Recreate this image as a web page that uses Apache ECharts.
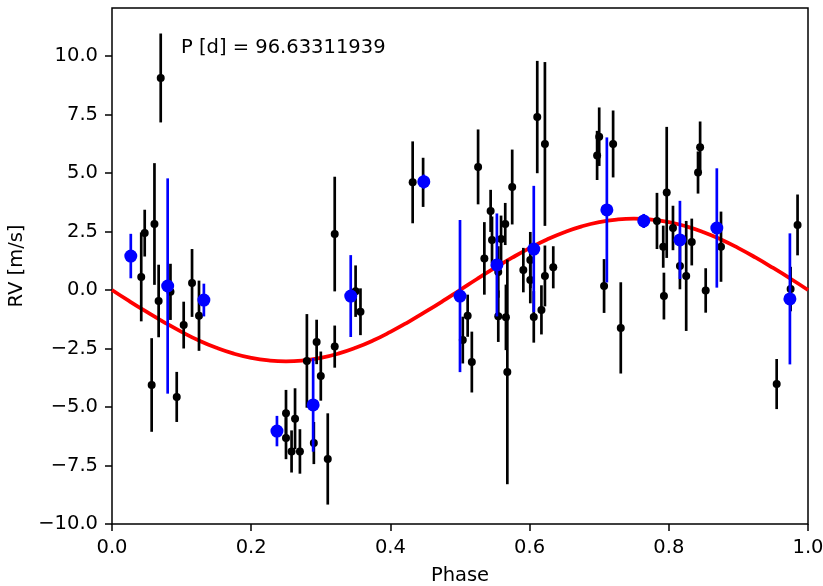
<!DOCTYPE html>
<html>
<head>
<meta charset="utf-8">
<script src="https://cdn.jsdelivr.net/npm/echarts@6/dist/echarts.min.js"></script>
<style>
html,body{margin:0;padding:0;background:#fff;}
#chart{width:823px;height:586px;}
</style>
</head>
<body>
<div id="chart"></div>
<script>
// Individual RV measurements (black)
const obsPhase = [0.042,0.047,0.057,0.061,0.067,0.070,0.084,0.093,0.103,0.115,0.125,
  0.250,0.250,0.263,0.258,0.270,0.290,0.280,0.294,0.300,0.310,0.320,0.320,0.350,0.357,
  0.432,0.447,0.504,0.511,0.517,0.526,0.535,0.544,0.546,0.555,0.559,0.565,0.555,0.566,0.568,
  0.575,0.591,0.601,0.601,0.606,0.611,0.617,0.622,0.622,0.634,
  0.697,0.700,0.707,0.720,0.731,0.783,0.792,0.793,0.797,0.806,0.816,0.825,0.833,0.842,0.845,
  0.853,0.875,0.955,0.975,0.985];
const obsRV = [0.56,2.43,-4.06,2.82,-0.47,9.06,-0.08,-4.57,-1.50,0.30,-1.10,
  -5.27,-6.33,-5.50,-6.90,-6.90,-6.54,-3.03,-2.22,-3.68,-7.22,-2.42,2.39,-0.05,-0.93,
  4.60,4.60,-2.14,-1.10,-3.08,5.26,1.35,3.38,2.14,0.77,2.18,2.82,-1.12,-1.17,-3.50,
  4.40,0.85,1.28,0.43,-1.15,7.39,-0.85,6.24,0.60,0.97,
  5.75,6.55,0.17,6.24,-1.62,2.95,1.85,-0.26,4.17,2.65,1.03,0.60,2.05,5.02,6.10,
  -0.02,1.85,-4.02,0.04,2.78];
const obsErr = [1.9,1.0,2.0,2.6,1.55,1.9,1.2,1.07,1.0,1.45,1.5,
  1.0,0.9,1.3,0.9,0.95,0.9,2.0,0.95,1.05,1.95,0.9,2.45,1.1,1.0,
  1.75,1.05,1.0,0.9,1.3,1.6,1.55,0.9,1.0,1.1,1.0,0.9,1.1,1.4,4.8,
  1.6,0.95,1.2,1.0,1.1,2.4,1.05,3.5,1.3,0.9,
  1.05,1.25,1.15,1.43,1.95,1.2,0.9,1.0,2.8,0.95,1.0,2.35,1.0,0.9,1.1,
  0.95,1.5,1.07,0.95,1.3];

// Binned RVs (blue)
const binPhase = [0.027,0.080,0.132,0.237,0.289,0.343,0.448,0.500,0.553,0.606,0.711,0.764,0.816,0.869,0.974];
const binRV    = [1.45,0.17,-0.43,-6.03,-4.91,-0.26,4.63,-0.26,1.07,1.75,3.42,2.95,2.14,2.65,-0.38];
const binErr   = [0.95,4.6,0.7,0.65,2.0,1.75,0.3,3.25,2.2,2.7,3.1,0.3,1.67,2.55,2.8];

// Keplerian model curve (red)
const modelPhase = [0,0.025,0.05,0.075,0.1,0.125,0.15,0.175,0.2,0.225,0.25,
  0.275,0.3,0.325,0.35,0.375,0.4,0.425,0.45,0.475,0.5,
  0.525,0.55,0.575,0.6,0.625,0.65,0.675,0.7,0.725,0.75,
  0.775,0.8,0.825,0.85,0.875,0.9,0.925,0.95,0.975,1.0];
const modelRV = [0,-0.48,-0.94,-1.38,-1.79,-2.16,-2.47,-2.72,-2.90,-3.01,-3.05,
  -3.01,-2.90,-2.72,-2.47,-2.16,-1.79,-1.38,-0.94,-0.48,0,
  0.48,0.94,1.38,1.79,2.16,2.47,2.72,2.90,3.01,3.05,
  3.01,2.90,2.72,2.47,2.16,1.79,1.38,0.94,0.48,0];

const xTicks = [0,0.2,0.4,0.6,0.8,1.0];
const yTicks = [-10,-7.5,-5,-2.5,0,2.5,5,7.5,10];
const annotation = 'P [d] = 96.63311939';

const FONT = 'DejaVu Sans';
const FS = 19.5;
const fmt = v => (v < 0 ? '\u2212' : '') + Math.abs(v).toFixed(1);

function errRender(color){
  return function(params, api){
    const x = api.value(0), y = api.value(1), e = api.value(2);
    const p1 = api.coord([x, y - e]);
    const p2 = api.coord([x, y + e]);
    return {type:'line', shape:{x1:p1[0], y1:p1[1], x2:p2[0], y2:p2[1]},
      style:{stroke:color, lineWidth:2.7}};
  };
}

const obsData = obsPhase.map((p,i)=>[p, obsRV[i], obsErr[i]]);
const binData = binPhase.map((p,i)=>[p, binRV[i], binErr[i]]);
const modelData = modelPhase.map((p,i)=>[p, modelRV[i]]);

const chart = echarts.init(document.getElementById('chart'), null, {renderer:'canvas'});
chart.setOption({
  animation:false,
  backgroundColor:'#fff',
  title:{text:annotation, left:176, top:33, padding:5,
    textStyle:{fontFamily:FONT, fontSize:FS, fontWeight:'normal', color:'#000'}},
  grid:{left:112, right:15, top:8, bottom:62, show:true, borderColor:'#000', borderWidth:1.5,
    backgroundColor:'transparent', containLabel:false, outerBoundsMode:'none'},
  xAxis:{type:'value', min:0, max:1, interval:0.2,
    name:'Phase', nameLocation:'middle', nameGap:42,
    nameTextStyle:{fontFamily:FONT, fontSize:FS, color:'#000'},
    axisLine:{show:false, onZero:false}, splitLine:{show:false},
    axisTick:{show:true, inside:false, length:7, lineStyle:{color:'#000', width:1.5}, customValues:xTicks},
    axisLabel:{margin:14, fontFamily:FONT, fontSize:FS, color:'#000', formatter:fmt, customValues:xTicks}},
  yAxis:{type:'value', min:-10, max:12.05, interval:2.5,
    name:'RV [m/s]', nameLocation:'middle', nameGap:81, nameRotate:90,
    nameTextStyle:{fontFamily:FONT, fontSize:FS, color:'#000'},
    axisLine:{show:false, onZero:false}, splitLine:{show:false},
    axisTick:{show:true, inside:false, length:7, lineStyle:{color:'#000', width:1.5}, customValues:yTicks},
    axisLabel:{margin:14, fontFamily:FONT, fontSize:FS, color:'#000', formatter:fmt, customValues:yTicks}},
  series:[
    {type:'line', data:modelData, showSymbol:false, smooth:true, z:1,
      lineStyle:{color:'#ff0000', width:3.8}, silent:true},
    {type:'custom', data:obsData, renderItem:errRender('#000000'), encode:{x:0,y:1}, clip:true, z:2, silent:true},
    {type:'scatter', data:obsData.map(d=>[d[0],d[1]]), symbolSize:8, itemStyle:{color:'#000000', opacity:1}, z:3, silent:true},
    {type:'custom', data:binData, renderItem:errRender('#0000ff'), encode:{x:0,y:1}, clip:true, z:4, silent:true},
    {type:'scatter', data:binData.map(d=>[d[0],d[1]]), symbolSize:13, itemStyle:{color:'#0000ff', opacity:1}, z:5, silent:true}
  ]
});
</script>
</body>
</html>
